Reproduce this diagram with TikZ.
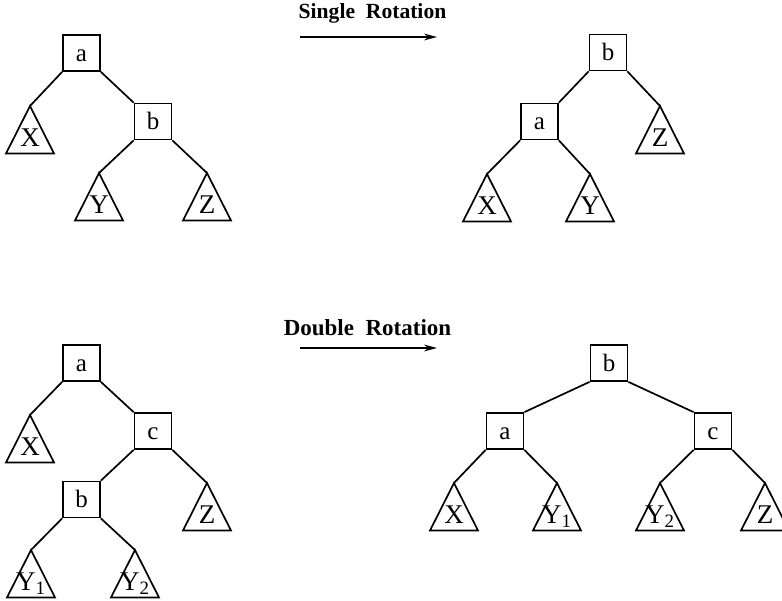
\documentclass[tikz,border=0pt]{standalone}
\usepackage{fontspec}
\setmainfont{Liberation Serif}
\usetikzlibrary{arrows.meta}

\tikzset{
  treeline/.style={line width=0.85pt, line join=miter},
  keybox/.style={draw, treeline, inner sep=0pt, minimum width=18.5pt,
    minimum height=18pt, text height=8pt, text depth=0pt,
    font=\fontsize{12.5}{14}\selectfont},
  leaflabel/.style={inner sep=0pt, anchor=base,
    font=\fontsize{13.5}{15}\selectfont},
  caption/.style={inner sep=0pt, font=\fontsize{11.5}{13}\selectfont\bfseries},
  rotarrow/.style={line width=0.7pt, -{Stealth[length=6.5pt,width=3.4pt]}},
  % a subtree drawn as a triangle hanging from its apex
  subtree/.pic={
    \coordinate (-apex) at (0,0);
    \draw[treeline] (0,0) -- (-24,47.5) -- (24,47.5) -- cycle;
    \node[leaflabel] (-label) at (0,40.5) {#1};
  }
}

\begin{document}
\begin{tikzpicture}[x=0.5pt, y=-0.5pt]
\useasboundingbox (0,0) rectangle (782,600);

% ---------- single rotation: before ----------
\node[keybox] (sa) at (81.5,53) {a};
\node[keybox] (sb) at (153,121.5) {b};
\pic (sX) at (30,106) {subtree=X};
\pic (sY) at (99,173) {subtree=Y};
\pic (sZ) at (207,173) {subtree=Z};
\draw[treeline] (sa.south west) -- (sX-apex);
\draw[treeline] (sa.south east) -- (sb.north west);
\draw[treeline] (sb.south west) -- (sY-apex);
\draw[treeline] (sb.south east) -- (sZ-apex);

% ---------- single rotation: arrow ----------
\node[caption, font=\fontsize{10.8}{13}\selectfont\bfseries] (single)
  at (372.5,13) {Single\ \ Rotation};
\coordinate (s1) at (300,37);
\coordinate (s2) at (437,37);
\draw[rotarrow] (s1) -- (s2);

% ---------- single rotation: after ----------
\node[keybox] (ta) at (539.5,121.5) {a};
\node[keybox] (tb) at (608,52.5) {b};
\pic (tX) at (487,174) {subtree=X};
\pic (tY) at (590,174) {subtree=Y};
\pic (tZ) at (660,106) {subtree=Z};
\draw[treeline] (tb.south west) -- (ta.north east);
\draw[treeline] (tb.south east) -- (tZ-apex);
\draw[treeline] (ta.south west) -- (tX-apex);
\draw[treeline] (ta.south east) -- (tY-apex);

% ---------- double rotation: before ----------
\node[keybox] (da) at (81.5,363) {a};
\node[keybox] (dc) at (153,431) {c};
\node[keybox] (db) at (81.5,499.5) {b};
\pic (dX) at (30,415) {subtree=X};
\pic (dZ) at (207,483) {subtree=Z};
\pic (dY1) at (31,550) {subtree=Y\textsubscript{1}};
\pic (dY2) at (135,550) {subtree=Y\textsubscript{2}};
\draw[treeline] (da.south west) -- (dX-apex);
\draw[treeline] (da.south east) -- (dc.north west);
\draw[treeline] (dc.south west) -- (db.north east);
\draw[treeline] (dc.south east) -- (dZ-apex);
\draw[treeline] (db.south west) -- (dY1-apex);
\draw[treeline] (db.south east) -- (dY2-apex);

% ---------- double rotation: arrow ----------
\node[caption] (double) at (367.5,328) {Double\ \ Rotation};
\coordinate (d1) at (300,348);
\coordinate (d2) at (437,348);
\draw[rotarrow] (d1) -- (d2);

% ---------- double rotation: after ----------
\node[keybox] (eb) at (609,363) {b};
\node[keybox] (ea) at (505,431) {a};
\node[keybox] (ec) at (713,431) {c};
\pic (eX) at (454,483) {subtree=X};
\pic (eY1) at (557,483) {subtree=Y\textsubscript{1}};
\pic (eY2) at (660,483) {subtree=Y\textsubscript{2}};
\pic (eZ) at (765,483) {subtree=Z};
\draw[treeline] (eb.south west) -- (ea.north east);
\draw[treeline] (eb.south east) -- (ec.north west);
\draw[treeline] (ea.south west) -- (eX-apex);
\draw[treeline] (ea.south east) -- (eY1-apex);
\draw[treeline] (ec.south west) -- (eY2-apex);
\draw[treeline] (ec.south east) -- (eZ-apex);
\end{tikzpicture}
\end{document}
